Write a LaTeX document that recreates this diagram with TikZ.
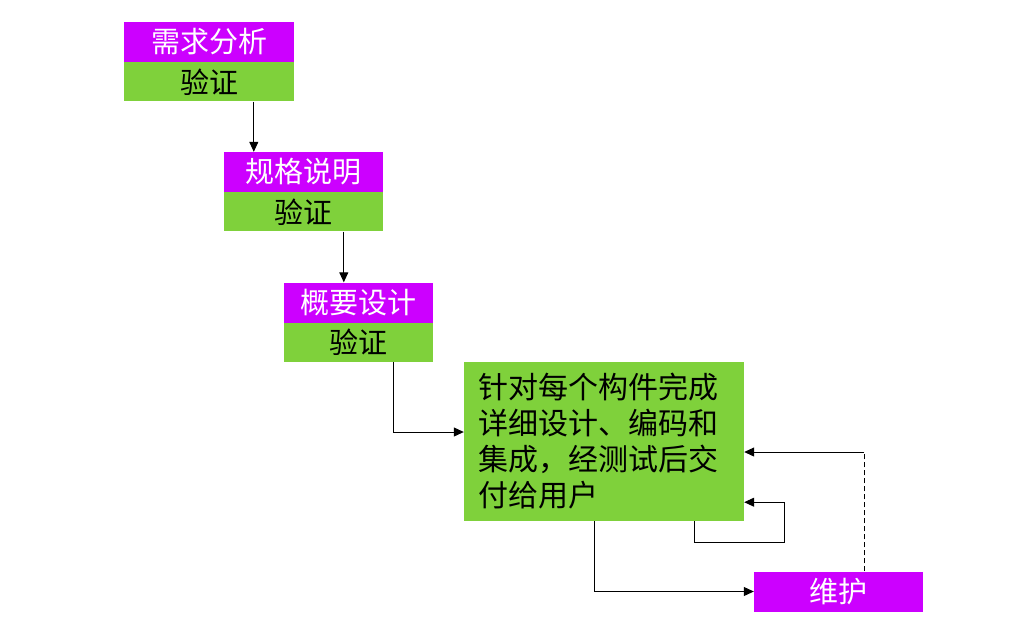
\documentclass[tikz,border=0pt]{standalone}
\usepackage{fontspec}
\setmainfont{Noto Sans CJK SC}
\usetikzlibrary{arrows.meta,positioning}
\definecolor{stagepurple}{HTML}{CC00FF}
\definecolor{stagegreen}{HTML}{7FD13B}
\tikzset{
  stage/.style={fill=stagepurple,text=white,inner sep=0pt,minimum height=40,
    font=\fontsize{29}{32}\selectfont},
  check/.style={fill=stagegreen,text=black,inner sep=0pt,minimum height=39,
    font=\fontsize{29}{32}\selectfont},
  work/.style={fill=stagegreen,text=black,inner sep=0pt,minimum width=280,
    minimum height=159,font=\fontsize{30}{36}\selectfont},
  flow/.style={draw=black,line width=1pt,-{Triangle[length=10pt,width=9pt]}},
  back/.style={draw=black,line width=1pt,dashed,dash pattern=on 5pt off 3pt}
}
\begin{document}
\begin{tikzpicture}[x=1pt,y=-1pt]
  \useasboundingbox[fill=white] (0,0) rectangle (1028,630);
  \node[stage,minimum width=170] (req) at (209,42) {需求分析};
  \node[check,minimum width=170,below=0pt of req] (reqv) {验证};
  \node[stage,minimum width=159] (spec) at (303.5,172) {规格说明};
  \node[check,minimum width=159,below=0pt of spec] (specv) {验证};
  \node[stage,minimum width=149] (arch) at (358.5,302.5) {概要设计};
  \node[check,minimum width=149,below=0pt of arch] (archv) {验证};
  \node[work] (detail) at (604,441.5) {%
    \begin{minipage}{252pt}\raggedright
    针对每个构件完成\\详细设计、编码和\\集成，经测试后交\\付给用户
    \end{minipage}};
  \node[stage,minimum width=169] (maint) at (838.5,591.5) {维护};
  \coordinate (fb) at (864,452);
  \draw[flow] ([xshift=30]spec.north west |- reqv.south) -- ([xshift=30]spec.north west);
  \draw[flow] ([xshift=60]arch.north west |- specv.south) -- ([xshift=60]arch.north west);
  \draw[flow] ([xshift=110]archv.south west) |- ([yshift=9.5]detail.west);
  \draw[flow] ([xshift=-10]detail.south) |- (maint.west);
  \draw[flow] ([xshift=-50]detail.south east) -- ++(0,21) -| ([xshift=40,yshift=19]detail.south east)
    -- ([yshift=19]detail.south east);
  \draw[back] (maint.north -| fb) -- (fb);
  \draw[flow] (fb) -- (detail.east |- fb);
\end{tikzpicture}
\end{document}
